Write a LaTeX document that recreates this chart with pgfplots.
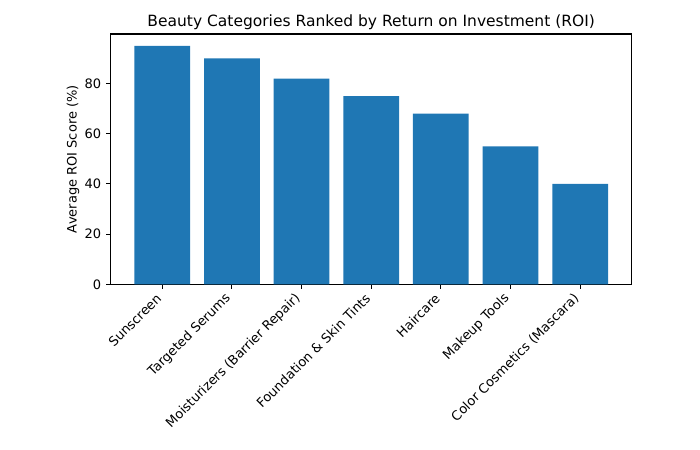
\documentclass[border=0pt]{standalone}
\usepackage{pgfplots}
\pgfplotsset{compat=1.18}
\usepackage{fontspec}
\setmainfont{DejaVu Sans}
\definecolor{mplblue}{HTML}{1F77B4}
\begin{document}
\begin{tikzpicture}
\path[use as bounding box] (-1.107in,-1.657in) rectangle (5.893in,2.843in);
\begin{axis}[
  at={(0,0)}, anchor=south west,
  scale only axis, width=5.21in, height=2.503in,
  xmin=-0.74, xmax=6.74, ymin=0, ymax=99.75,
  xtick={0,1,2,3,4,5,6},
  xticklabels={Sunscreen, Targeted Serums, Moisturizers (Barrier Repair), Foundation \& Skin Tints, Haircare, Makeup Tools, Color Cosmetics (Mascara)},
  ytick={0,20,40,60,80},
  tick align=outside, xtick pos=left, ytick pos=left,
  major tick length=3.3pt,
  tick style={black, line width=0.8pt},
  axis line style={line width=0.8pt},
  ybar, bar width=0.8, bar shift=0pt,
  /pgf/number format/assume math mode=true,
  tick label style={font=\fontsize{9.4}{11}\selectfont},
  xticklabel style={rotate=45, anchor=east, xshift=-2pt, yshift=-2pt},
  title={Beauty Categories Ranked by Return on Investment (ROI)},
  title style={font=\fontsize{11.2}{13}\selectfont, yshift=-6.5pt},
  ylabel={Average ROI Score (\%)},
  ylabel style={font=\fontsize{9.4}{11}\selectfont, yshift=-3pt},
]
\addplot[fill=mplblue, draw=none] coordinates {(0,95) (1,90) (2,82) (3,75) (4,68) (5,55) (6,40)};
\end{axis}
\end{tikzpicture}
\end{document}
